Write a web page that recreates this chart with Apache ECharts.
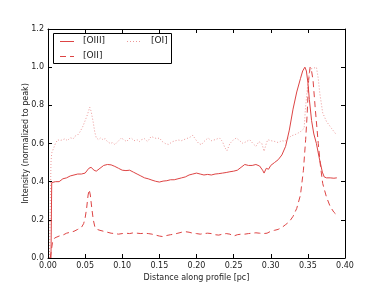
<!DOCTYPE html>
<html><head><meta charset="utf-8">
<script src="https://cdn.jsdelivr.net/npm/echarts@6/dist/echarts.min.js"></script>
<style>html,body{margin:0;padding:0;background:#fff}#c{width:384px;height:288px}</style>
</head><body><div id="c"></div>
<script>
// [OIII] profile
const xOIII = [0.004,0.005,0.01,0.015,0.02,0.025,0.03,0.035,0.04,0.045,0.05,0.055,0.058,0.062,0.065,0.07,0.075,0.08,0.085,0.09,0.095,0.10,0.105,0.11,0.115,0.12,0.125,0.13,0.135,0.14,0.145,0.15,0.155,0.16,0.165,0.17,0.175,0.18,0.185,0.19,0.195,0.20,0.205,0.21,0.215,0.22,0.225,0.23,0.235,0.24,0.245,0.25,0.255,0.26,0.265,0.27,0.275,0.28,0.285,0.289,0.291,0.294,0.297,0.30,0.305,0.31,0.315,0.32,0.325,0.33,0.335,0.34,0.343,0.346,0.348,0.35,0.352,0.355,0.358,0.3615,0.365,0.3695,0.372,0.375,0.38,0.385,0.389];
const yOIII = [0,0.395,0.40,0.40,0.415,0.42,0.43,0.435,0.44,0.44,0.445,0.47,0.475,0.46,0.455,0.47,0.485,0.49,0.488,0.48,0.47,0.46,0.458,0.46,0.45,0.44,0.43,0.42,0.415,0.408,0.402,0.398,0.403,0.405,0.41,0.41,0.415,0.42,0.425,0.435,0.44,0.445,0.44,0.435,0.438,0.435,0.44,0.442,0.445,0.448,0.452,0.455,0.46,0.475,0.49,0.485,0.485,0.49,0.482,0.46,0.445,0.47,0.465,0.485,0.50,0.515,0.54,0.585,0.67,0.78,0.87,0.94,0.98,1.0,0.98,0.92,0.83,0.72,0.65,0.6,0.53,0.45,0.425,0.42,0.42,0.418,0.42];
// [OII] profile
const xOII = [0.003,0.006,0.009,0.012,0.015,0.02,0.025,0.03,0.035,0.04,0.045,0.048,0.05,0.052,0.054,0.0555,0.057,0.059,0.061,0.063,0.066,0.07,0.075,0.08,0.085,0.09,0.095,0.10,0.105,0.11,0.115,0.12,0.125,0.13,0.135,0.14,0.145,0.15,0.155,0.16,0.165,0.17,0.175,0.18,0.185,0.19,0.195,0.20,0.205,0.21,0.215,0.22,0.225,0.23,0.235,0.24,0.245,0.25,0.255,0.26,0.265,0.27,0.275,0.28,0.285,0.29,0.295,0.30,0.305,0.31,0.315,0.32,0.325,0.33,0.335,0.34,0.344,0.347,0.349,0.351,0.353,0.355,0.357,0.36,0.364,0.367,0.37,0.375,0.38,0.385,0.389];
const yOII = [0,0.08,0.105,0.11,0.115,0.12,0.13,0.135,0.14,0.15,0.16,0.18,0.21,0.26,0.33,0.358,0.33,0.26,0.2,0.165,0.15,0.145,0.14,0.135,0.13,0.128,0.125,0.128,0.13,0.128,0.132,0.13,0.128,0.13,0.128,0.125,0.12,0.115,0.112,0.118,0.122,0.125,0.13,0.135,0.138,0.135,0.13,0.128,0.125,0.128,0.13,0.128,0.122,0.12,0.125,0.128,0.125,0.115,0.122,0.125,0.125,0.128,0.13,0.132,0.13,0.128,0.13,0.14,0.145,0.15,0.16,0.175,0.19,0.218,0.26,0.33,0.46,0.62,0.75,0.93,1.0,0.98,0.93,0.78,0.6,0.48,0.39,0.32,0.27,0.24,0.225];
// [OI] profile
const xOI = [0.002,0.004,0.005,0.008,0.01,0.013,0.016,0.02,0.023,0.026,0.03,0.034,0.037,0.04,0.043,0.047,0.05,0.053,0.0562,0.058,0.0607,0.063,0.065,0.068,0.071,0.074,0.077,0.08,0.084,0.087,0.09,0.094,0.0988,0.102,0.106,0.109,0.112,0.116,0.12,0.123,0.126,0.13,0.134,0.139,0.143,0.147,0.15,0.154,0.158,0.162,0.164,0.168,0.172,0.176,0.18,0.182,0.186,0.19,0.195,0.199,0.203,0.2066,0.21,0.2155,0.22,0.225,0.231,0.235,0.238,0.241,0.245,0.25,0.2537,0.258,0.2626,0.267,0.2716,0.276,0.28,0.284,0.288,0.291,0.294,0.296,0.30,0.305,0.31,0.315,0.319,0.323,0.328,0.332,0.337,0.341,0.345,0.3466,0.35,0.3525,0.355,0.358,0.3615,0.364,0.366,0.37,0.375,0.3817,0.3884];
const yOI = [0,0.5,0.55,0.58,0.6,0.62,0.615,0.62,0.625,0.615,0.63,0.625,0.64,0.645,0.66,0.69,0.72,0.75,0.79,0.77,0.716,0.66,0.63,0.62,0.63,0.62,0.625,0.61,0.6,0.605,0.594,0.61,0.629,0.62,0.61,0.625,0.629,0.615,0.62,0.61,0.62,0.625,0.61,0.637,0.63,0.625,0.629,0.61,0.6,0.595,0.594,0.61,0.615,0.618,0.615,0.62,0.625,0.63,0.643,0.62,0.6,0.594,0.61,0.629,0.615,0.62,0.629,0.61,0.58,0.562,0.6,0.62,0.629,0.615,0.60,0.61,0.62,0.6,0.585,0.61,0.6,0.559,0.6,0.62,0.615,0.611,0.605,0.615,0.611,0.625,0.641,0.645,0.655,0.665,0.68,0.777,0.917,0.99,1.0,0.995,1.0,0.94,0.865,0.76,0.716,0.68,0.646];
const xTicks = [0.0,0.05,0.1,0.15,0.2,0.25,0.3,0.35,0.4];
const yTicks = [0.0,0.2,0.4,0.6,0.8,1.0,1.2];
const seriesNames = ['[OIII]','[OII]','[OI]'];
const xTitle = 'Distance along profile [pc]';
const yTitle = 'Intensity (normalized to peak)';

const pair = (xs, ys) => xs.map((x, i) => [x, ys[i]]);
const FONT = 'DejaVu Sans';
const RED = '#dd4444';
const DASH = [6, 4];
const DOT = [1, 2];
const DOT_OPACITY = 0.55;
const chart = echarts.init(document.getElementById('c'), null, {renderer: 'canvas'});
const baseAxis = {
  splitLine: {show: false},
  axisLine: {show: true, onZero: false, lineStyle: {color: '#000', width: 1}},
  axisTick: {show: true, inside: true, length: 4, lineStyle: {color: '#000'}},
};
const legendText = (t, x, y) => ({type: 'text', left: x, top: y, z: 5,
  style: {text: t, fontFamily: FONT, fontSize: 9, fill: '#222'}});
const legendLine = (x1, x2, y, dash, op) => ({type: 'line', z: 5,
  shape: {x1: x1, y1: y, x2: x2, y2: y},
  style: {stroke: RED, lineWidth: 1, lineDash: dash, opacity: op}});
chart.setOption({
  animation: false,
  backgroundColor: '#fff',
  grid: {left: 48, right: 39, top: 29, bottom: 30, containLabel: false},
  xAxis: [
    Object.assign({}, baseAxis, {type: 'value', position: 'bottom', min: 0, max: 0.4, interval: 0.05,
      axisLabel: {fontFamily: FONT, fontSize: 8, color: '#222', margin: 4, formatter: v => v.toFixed(2)},
      name: xTitle, nameLocation: 'middle', nameGap: 16, nameMoveOverlap: false,
      nameTextStyle: {fontFamily: FONT, fontSize: 8, color: '#222'}}),
    Object.assign({}, baseAxis, {type: 'value', position: 'top', min: 0, max: 0.4, interval: 0.05, axisLabel: {show: false}})
  ],
  yAxis: [
    Object.assign({}, baseAxis, {type: 'value', position: 'left', min: 0, max: 1.2, interval: 0.2,
      axisLabel: {fontFamily: FONT, fontSize: 8, color: '#222', margin: 4, formatter: v => v.toFixed(1)},
      name: yTitle, nameLocation: 'middle', nameGap: 18, nameMoveOverlap: false,
      nameTextStyle: {fontFamily: FONT, fontSize: 8, color: '#222'}}),
    Object.assign({}, baseAxis, {type: 'value', position: 'right', min: 0, max: 1.2, interval: 0.2, axisLabel: {show: false}})
  ],
  graphic: [
    {type: 'rect', z: 4, shape: {x: 53.5, y: 33.5, width: 118, height: 30}, style: {fill: '#fff', stroke: '#000', lineWidth: 1}},
    legendLine(60, 74, 41.5, null, 1),
    legendLine(60, 74, 56.5, DASH, 1),
    legendLine(127, 142, 41.5, DOT, DOT_OPACITY),
    legendText(seriesNames[0], 83, 36),
    legendText(seriesNames[1], 83, 51),
    legendText(seriesNames[2], 151, 36)
  ],
  series: [
    {name: seriesNames[0], type: 'line', data: pair(xOIII, yOIII), showSymbol: false, symbol: 'none',
      lineStyle: {color: RED, width: 1, type: 'solid'}, itemStyle: {color: RED}},
    {name: seriesNames[1], type: 'line', data: pair(xOII, yOII), showSymbol: false, symbol: 'none',
      lineStyle: {color: RED, width: 1, type: DASH}, itemStyle: {color: RED}},
    {name: seriesNames[2], type: 'line', data: pair(xOI, yOI), showSymbol: false, symbol: 'none',
      lineStyle: {color: RED, width: 1, type: DOT, opacity: DOT_OPACITY}, itemStyle: {color: RED}}
  ]
});
</script></body></html>
